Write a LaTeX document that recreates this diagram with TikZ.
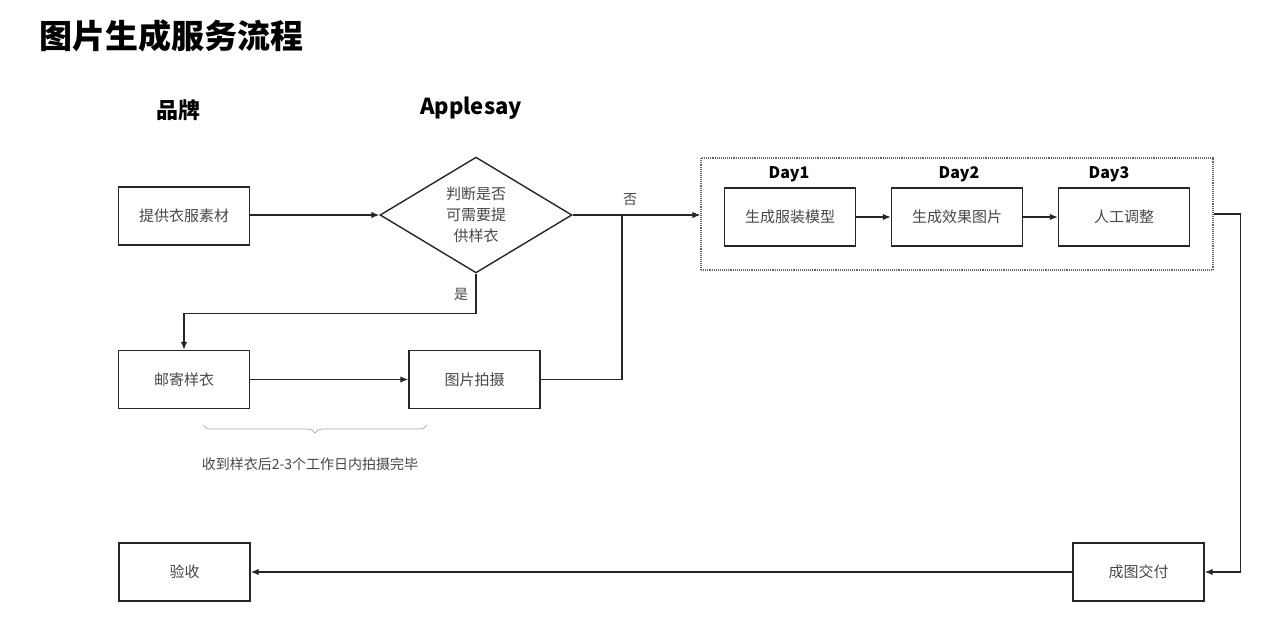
\documentclass[tikz,border=0pt]{standalone}
\usepackage{fontspec}
\setmainfont{Noto Sans CJK SC}
\usetikzlibrary{arrows.meta,shapes.geometric,decorations.pathreplacing}
\tikzset{
  stepbox/.style={draw=black!85,line width=1.4pt,minimum width=131pt,minimum height=58pt,
    inner sep=0pt,text=black!72,font=\fontsize{15}{18}\selectfont},
  choice/.style={diamond,draw=black!85,line width=1.4pt,minimum width=192pt,minimum height=115pt,
    inner sep=0pt,align=center,text=black!72,font=\fontsize{15}{21}\selectfont},
  flow/.style={line width=1.3pt,draw=black!85,-{Latex[length=8pt,width=6.5pt]}},
  link/.style={line width=1.3pt,draw=black!85},
  head/.style={font=\bfseries\fontsize{22}{26}\selectfont},
  daylabel/.style={font=\bfseries\fontsize{16}{19}\selectfont},
  note/.style={text=black!72,font=\fontsize{14}{17}\selectfont},
}
\begin{document}
\begin{tikzpicture}[x=1pt,y=-1pt]
  \useasboundingbox (0,0) rectangle (1280,633);
  % headings
  \node[anchor=west,font=\bfseries\fontsize{33}{38}\selectfont] (title) at (36,36) {图片生成服务流程};
  \node[head] (brand) at (178,110) {品牌};
  \node[head] (apple) at (471,108) {Applesay};
  % steps
  \node[stepbox] (material) at (184,216) {提供衣服素材};
  \node[choice] (check) at (476,215) {判断是否\\可需要提\\供样衣};
  \node[stepbox] (mail) at (184,379.5) {邮寄样衣};
  \node[stepbox] (shoot) at (474.5,379.5) {图片拍摄};
  \node[stepbox] (accept) at (184.5,572) {验收};
  \node[stepbox] (deliver) at (1138.5,572) {成图交付};
  % generation block
  \node[draw=black!60,densely dotted,line width=1.1pt,minimum width=512pt,minimum height=112pt] (gen) at (957,214) {};
  \node[stepbox] (model) at (790,217) {生成服装模型};
  \node[stepbox] (render) at (957,217) {生成效果图片};
  \node[stepbox] (tune) at (1124,217) {人工调整};
  \node[daylabel] (day1) at (789,174) {Day1};
  \node[daylabel] (day2) at (959,174) {Day2};
  \node[daylabel] (day3) at (1109,174) {Day3};
  \coordinate (join) at (622,215);
  % connectors
  \draw[flow] (material.east |- check.west) -- (check.west);
  \draw[flow] (check.east) -- (check.east -| gen.west);
  \draw[link] (shoot.east) -| (join);
  \draw[flow] (check.south) -- ++(0,40) -| (mail.north);
  \draw[flow] (mail) -- (shoot);
  \draw[flow] (model) -- (render);
  \draw[flow] (render) -- (tune);
  \draw[flow] (gen.east) -- ++(27,0) |- (deliver.east);
  \draw[flow] (deliver) -- (accept);
  \node[note] (no) at (630,200) {否};
  \node[note] (yes) at (461,294) {是};
  % brace
  \draw[black!35,line width=0.7pt,decorate,decoration={brace,amplitude=8pt}] (427,425) -- (203,425);
  \node[note] (span) at (310,464) {收到样衣后2-3个工作日内拍摄完毕};
\end{tikzpicture}
\end{document}
